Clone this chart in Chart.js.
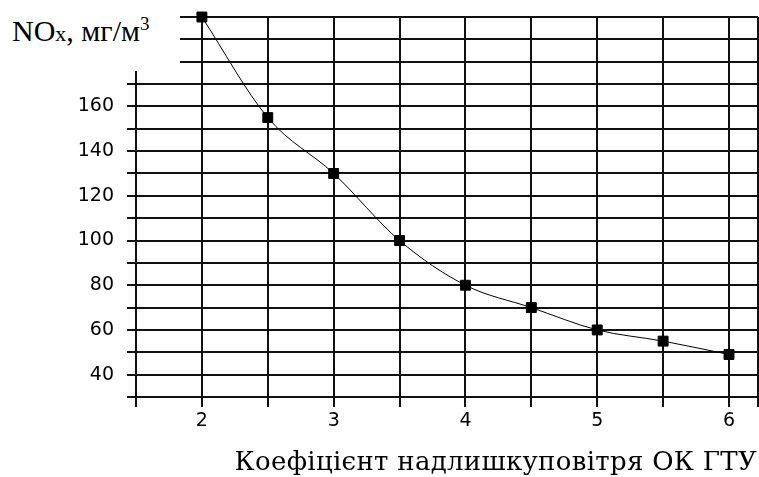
<!DOCTYPE html>
<html>
<head>
<meta charset="utf-8">
<script src="https://cdn.jsdelivr.net/npm/chart.js@4"></script>
<style>
  html, body { margin: 0; padding: 0; background: #fff; }
  #wrap { position: relative; width: 759px; height: 477px; }
  #ytitle {
    position: absolute; left: 0; top: 0; width: 180px; height: 71px;
    background: #fff;
    font-family: "Liberation Serif", serif; font-size: 30px; color: #000;
  }
  #ytitle span.t { position: absolute; left: 12px; top: 14px; white-space: nowrap; }
  #ytitle .sub { font-size: 22px; }
  #ytitle sup { font-size: 19px; vertical-align: 11px; line-height: 0; }
  #xtitle {
    position: absolute; right: 2px; top: 446px; white-space: nowrap;
    font-family: "DejaVu Serif", serif; font-size: 26px; color: #000;
    letter-spacing: 0.3px;
  }
</style>
</head>
<body>
<div id="wrap">
  <canvas id="chart" width="759" height="477"></canvas>
  <div id="ytitle"><span class="t">NO<span class="sub">x</span>, мг/м<sup>3</sup></span></div>
  <div id="xtitle">Коефіцієнт надлишкуповітря ОК ГТУ</div>
</div>
<script>
// данные с графика
const alpha = [2, 2.5, 3, 3.5, 4, 4.5, 5, 5.5, 6];
const nox = [200, 155, 130, 100, 80, 70, 60, 55, 49];
const yLabels = [40, 60, 80, 100, 120, 140, 160];
const xLabels = [2, 3, 4, 5, 6];

const points = alpha.map((a, i) => ({ x: a, y: nox[i] }));

const xMin = 1.5, xMax = 6.22;
const gridColor = "#111";
const tickFont = { family: "DejaVu Sans", size: 19 };

new Chart(document.getElementById("chart"), {
  type: "line",
  data: {
    datasets: [{
      data: points,
      borderColor: "#000",
      borderWidth: 1,
      backgroundColor: "#000",
      pointStyle: "rect",
      pointRadius: 7,
      pointHoverRadius: 7,
      cubicInterpolationMode: "monotone",
      fill: false,
      clip: false
    }]
  },
  options: {
    responsive: false,
    animation: false,
    layout: { autoPadding: false, padding: { top: 17, right: 1, left: 0, bottom: 0 } },
    plugins: { legend: { display: false }, tooltip: { enabled: false } },
    scales: {
      x: {
        type: "linear",
        min: xMin,
        max: xMax,
        // сетка через 0.5 плюс правая граница
        afterBuildTicks: s => {
          s.ticks = [xMin, ...alpha, xMax].map(v => ({ value: v }));
        },
        afterFit: s => { s.height = 80; s.paddingLeft = 0; s.paddingRight = 0; },
        border: { color: gridColor, width: 2 },
        grid: { color: gridColor, lineWidth: 2, tickLength: 10, tickColor: gridColor },
        ticks: {
          autoSkip: false,
          maxRotation: 0,
          padding: 3,
          color: "#000",
          font: tickFont,
          callback: v => xLabels.includes(v) ? String(v) : ""
        }
      },
      y: {
        min: 30,
        max: 200,
        afterFit: s => { s.width = 136; s.paddingTop = 0; s.paddingBottom = 0; },
        border: { color: gridColor, width: 2 },
        grid: { color: gridColor, lineWidth: 2, tickLength: 9, tickColor: gridColor },
        ticks: {
          stepSize: 10,
          autoSkip: false,
          padding: 13,
          color: "#000",
          font: tickFont,
          callback: v => yLabels.includes(v) ? String(v) : ""
        }
      }
    }
  }
});
</script>
</body>
</html>
